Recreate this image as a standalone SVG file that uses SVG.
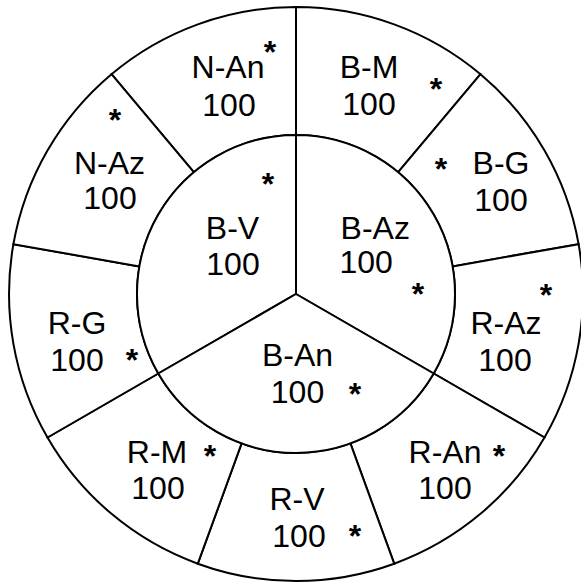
<svg xmlns="http://www.w3.org/2000/svg" width="581" height="584" viewBox="0 0 581 584">
<style>
.sec{fill:#fff;stroke:#000;stroke-width:2;stroke-linejoin:miter}
text{font-family:"Liberation Sans",Arial,sans-serif;font-size:32px;fill:#000;text-anchor:middle}
.st{font-weight:bold}
</style>
<rect width="581" height="584" fill="#fff"/>
<g id="ring">
<g id="n-an"><path class="sec" d="M296 135 L296 7 A287 287 0 0 0 111.5 74.2 L193.8 172.2 A159 159 0 0 1 296 135 Z"/><text x="228" y="78">N-An</text><text x="229" y="116">100</text><text class="st" x="270" y="63">*</text></g>
<g id="b-m"><path class="sec" d="M296 135 L296 7 A287 287 0 0 1 480.5 74.2 L398.2 172.2 A159 159 0 0 0 296 135 Z"/><text x="369" y="78">B-M</text><text x="369" y="115">100</text><text class="st" x="436" y="100">*</text></g>
<g id="b-g"><path class="sec" d="M398.2 172.2 L480.5 74.2 A287 287 0 0 1 578.6 244.2 L452.6 266.4 A159 159 0 0 0 398.2 172.2 Z"/><text x="501" y="174">B-G</text><text x="501" y="211">100</text><text class="st" x="441" y="180">*</text></g>
<g id="r-az"><path class="sec" d="M452.6 266.4 L578.6 244.2 A287 287 0 0 1 544.5 437.5 L433.7 373.5 A159 159 0 0 0 452.6 266.4 Z"/><text x="506" y="334">R-Az</text><text x="505" y="371">100</text><text class="st" x="546" y="306">*</text></g>
<g id="r-an"><path class="sec" d="M433.7 373.5 L544.5 437.5 A287 287 0 0 1 394.2 563.7 L350.4 443.4 A159 159 0 0 0 433.7 373.5 Z"/><text x="445" y="463">R-An</text><text x="445" y="499">100</text><text class="st" x="499" y="467">*</text></g>
<g id="r-v"><path class="sec" d="M350.4 443.4 L394.2 563.7 A287 287 0 0 1 197.8 563.7 L241.6 443.4 A159 159 0 0 0 350.4 443.4 Z"/><text x="297" y="510">R-V</text><text x="299" y="547">100</text><text class="st" x="355" y="547">*</text></g>
<g id="r-m"><path class="sec" d="M241.6 443.4 L197.8 563.7 A287 287 0 0 1 47.5 437.5 L158.3 373.5 A159 159 0 0 0 241.6 443.4 Z"/><text x="157" y="463">R-M</text><text x="158" y="499">100</text><text class="st" x="210" y="467">*</text></g>
<g id="r-g"><path class="sec" d="M158.3 373.5 L47.5 437.5 A287 287 0 0 1 13.4 244.2 L139.4 266.4 A159 159 0 0 0 158.3 373.5 Z"/><text x="77" y="334">R-G</text><text x="77" y="371">100</text><text class="st" x="132" y="371">*</text></g>
<g id="n-az"><path class="sec" d="M139.4 266.4 L13.4 244.2 A287 287 0 0 1 111.5 74.2 L193.8 172.2 A159 159 0 0 0 139.4 266.4 Z"/><text x="109.5" y="174">N-Az</text><text x="110" y="209">100</text><text class="st" x="115" y="131">*</text></g>
</g>
<g id="core">
<g id="b-v"><path class="sec" d="M296 294 L158.3 373.5 A159 159 0 0 1 296 135 Z"/><text x="232.5" y="239">B-V</text><text x="233" y="275">100</text><text class="st" x="268" y="195">*</text></g>
<g id="b-az"><path class="sec" d="M296 294 L296 135 A159 159 0 0 1 433.7 373.5 Z"/><text x="340.6" y="239" style="text-anchor:start">B-Az</text><text x="339.5" y="273" style="text-anchor:start">100</text><text class="st" x="418" y="305">*</text></g>
<g id="b-an"><path class="sec" d="M296 294 L433.7 373.5 A159 159 0 0 1 158.3 373.5 Z"/><text x="297.5" y="366">B-An</text><text x="297.5" y="403">100</text><text class="st" x="355" y="405">*</text></g>
</g>
<g id="connectors"/>
</svg>
